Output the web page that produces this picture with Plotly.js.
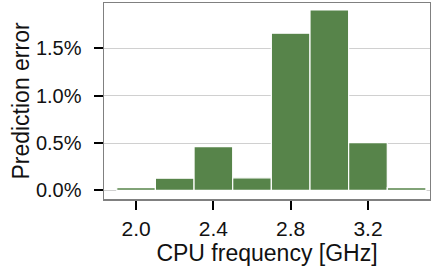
<!DOCTYPE html>
<html><head><meta charset="utf-8">
<script src="https://cdn.plot.ly/plotly-3.0.1.min.js"></script>
<style>html,body{margin:0;padding:0;background:#fff}#chart{width:431px;height:269px}</style>
</head><body><div id="chart"></div>
<script>
const frequencies = [2.0, 2.2, 2.4, 2.6, 2.8, 3.0, 3.2, 3.4];
const errors = [0.03, 0.13, 0.463, 0.134, 1.66, 1.905, 0.505, 0.03];
const xTicks = [2.0, 2.4, 2.8, 3.2];
const xTickLabels = ["2.0", "2.4", "2.8", "3.2"];
const yTicks = [0, 0.5, 1.0, 1.5];
const yTickLabels = ["0.0%", "0.5%", "1.0%", "1.5%"];

const font = "Liberation Sans, Arial, sans-serif";
Plotly.newPlot("chart", [{
  type: "bar", x: frequencies, y: errors, width: 0.2,
  marker: {color: "#57844a", line: {color: "#ffffff", width: 1.2}},
  hoverinfo: "none"
}], {
  width: 431, height: 269,
  margin: {l: 104, r: 1, t: 3, b: 70},
  paper_bgcolor: "#fff", plot_bgcolor: "#fff",
  showlegend: false,
  font: {family: font, color: "#111", size: 21},
  xaxis: {
    range: [1.834, 3.521], tickvals: xTicks, ticktext: xTickLabels,
    showgrid: false, zeroline: false,
    showline: true, mirror: true, linecolor: "#808080", linewidth: 1.5,
    ticks: "outside", ticklen: 9, tickwidth: 2, tickcolor: "#000",
    tickfont: {size: 21}, ticklabelstandoff: 1,
    title: {text: "CPU frequency [GHz]", font: {size: 23}, standoff: 1}
  },
  yaxis: {
    range: [-0.09, 1.979], tickvals: yTicks, ticktext: yTickLabels,
    showgrid: true, gridcolor: "#d0d0d0", gridwidth: 1, zeroline: false,
    showline: true, mirror: true, linecolor: "#808080", linewidth: 1.5,
    ticks: "outside", ticklen: 9, tickwidth: 2, tickcolor: "#000",
    tickfont: {size: 20}, ticklabelstandoff: 8,
    title: {text: "Prediction error", font: {size: 23}, standoff: 0}
  }
}, {staticPlot: true, displayModeBar: false});
</script></body></html>
